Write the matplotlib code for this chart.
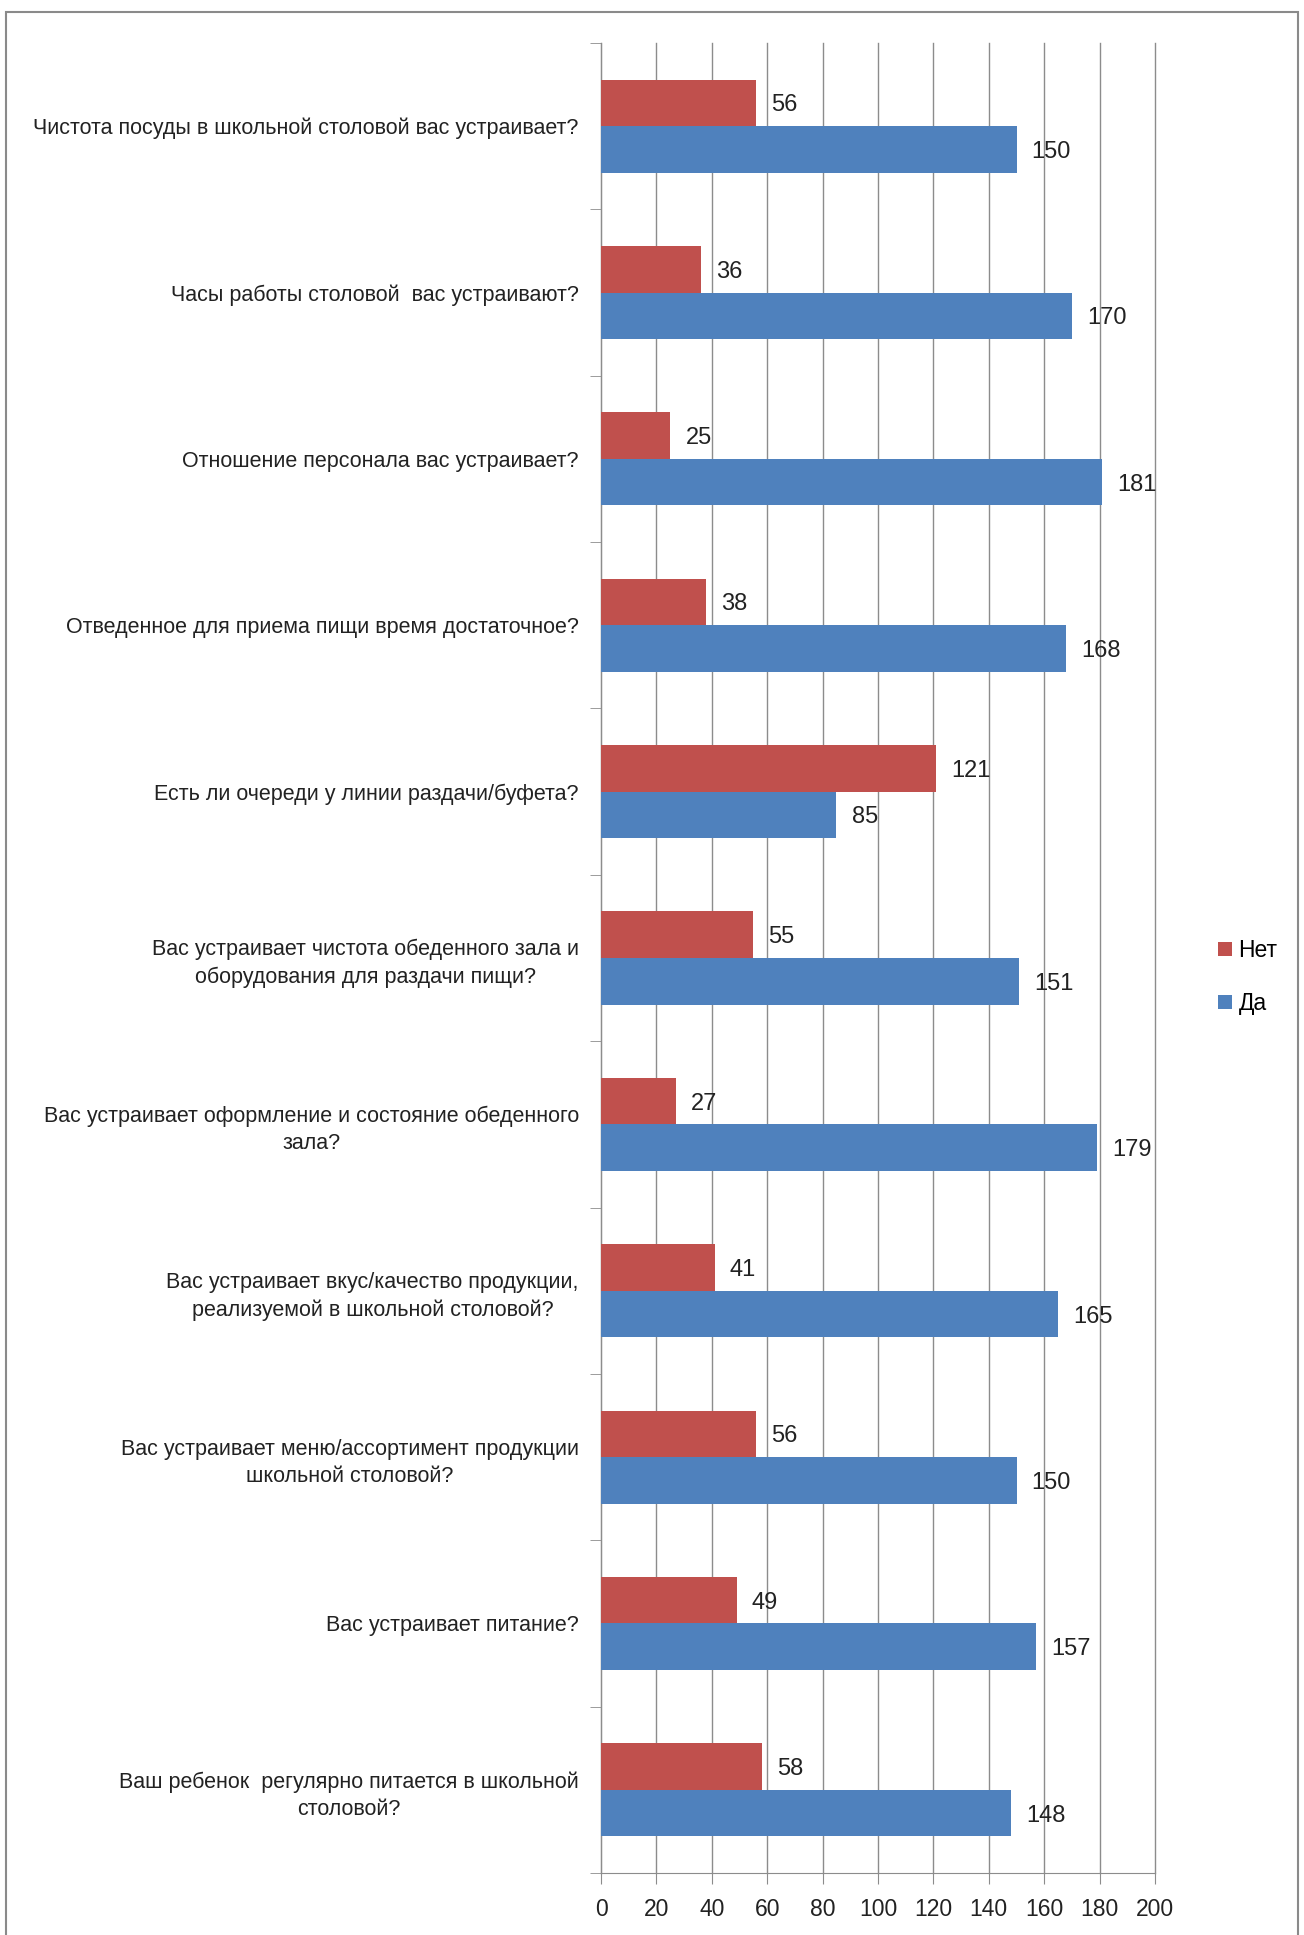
import matplotlib.pyplot as plt
import matplotlib.patches as patches
import numpy as np

plt.rcParams['font.family'] = ['Liberation Sans', 'DejaVu Sans']

# вопросы анкеты (сверху вниз)
questions = [
    'Чистота посуды в школьной столовой вас устраивает?',
    'Часы работы столовой  вас устраивают?',
    'Отношение персонала вас устраивает?',
    'Отведенное для приема пищи время достаточное?',
    'Есть ли очереди у линии раздачи/буфета?',
    'Вас устраивает чистота обеденного зала и\nоборудования для раздачи пищи?',
    'Вас устраивает оформление и состояние обеденного\nзала?',
    'Вас устраивает вкус/качество продукции,\nреализуемой в школьной столовой?',
    'Вас устраивает меню/ассортимент продукции\nшкольной столовой?',
    'Вас устраивает питание?',
    'Ваш ребенок  регулярно питается в школьной\nстоловой?',
]
net = [56, 36, 25, 38, 121, 55, 27, 41, 56, 49, 58]
da = [150, 170, 181, 168, 85, 151, 179, 165, 150, 157, 148]
xticks = [0, 20, 40, 60, 80, 100, 120, 140, 160, 180, 200]

red = '#C0504D'
blue = '#4F81BD'
grid_c = '#8C8C8C'
txt_c = '#222222'

fig = plt.figure(figsize=(13.04, 19.35), dpi=100)
ax = fig.add_axes([601/1304, 1 - 1873/1935, (1155-601)/1304, (1873-43)/1935])

# рамка вокруг диаграммы
fig.patches.append(patches.Rectangle((6/1304, -0.01), (1298-6)/1304, (1935-12)/1935 + 0.01,
                                     transform=fig.transFigure, fill=False,
                                     edgecolor='#8A8A8A', linewidth=1.5))

n = len(questions)
y = np.arange(n)
h = 0.28
ax.barh(y - h/2, net, height=h, color=red, label='Нет', zorder=3)
ax.barh(y + h/2, da, height=h, color=blue, label='Да', zorder=3)

# подписи значений чуть ниже центра столбца, как в оригинале
for i in range(n):
    ax.text(net[i] + 5.5, y[i] - h/2 + 0.015, str(net[i]), va='center', ha='left', fontsize=17, color=txt_c, zorder=4)
    ax.text(da[i] + 5.5, y[i] + h/2 + 0.015, str(da[i]), va='center', ha='left', fontsize=17, color=txt_c, zorder=4)

ax.set_xlim(0, 200)
ax.set_ylim(n - 0.5, -0.5)
ax.set_xticks(xticks)
ax.set_xticklabels([str(v) for v in xticks], fontsize=16.5, color=txt_c)
ax.tick_params(axis='x', direction='out', length=8, color=grid_c, pad=10)
ax.xaxis.grid(True, color=grid_c, linewidth=1.0, zorder=0)
for gl in ax.get_xgridlines():
    gl.set_clip_on(False)

ax.set_yticks(y)
ax.set_yticklabels(questions, fontsize=15.5, color=txt_c)
for t in ax.get_yticklabels():
    t.set_multialignment('center')
    t.set_linespacing(1.4)
ax.tick_params(axis='y', which='major', length=0, pad=16)
ax.set_yticks(np.arange(n + 1) - 0.5, minor=True)
ax.tick_params(axis='y', which='minor', length=8, direction='out', color=grid_c)

for s in ['top', 'right']:
    ax.spines[s].set_visible(False)
ax.spines['left'].set_color(grid_c)
ax.spines['bottom'].set_color(grid_c)

handles, labels = ax.get_legend_handles_labels()
fig.legend(handles, labels, loc='center left', bbox_to_anchor=(1218/1304, 1 - 977/1935),
           frameon=False, fontsize=16.5, handlelength=0.6, handleheight=0.6,
           handletextpad=0.3, labelspacing=1.3, borderpad=0, borderaxespad=0)

fig.savefig('out.png', dpi=100)
